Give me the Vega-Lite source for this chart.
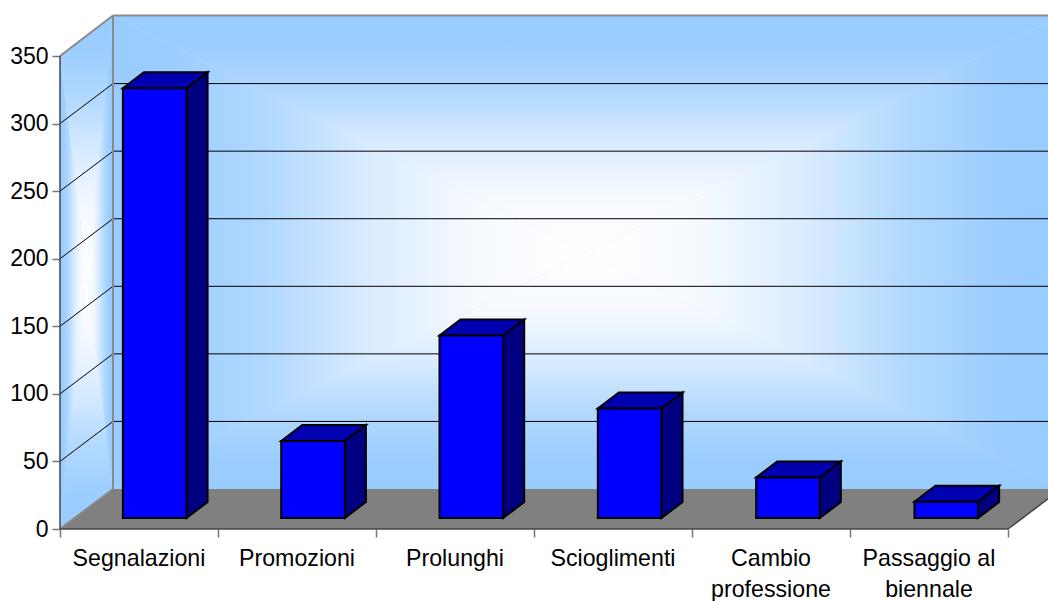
{
"$schema":"https://vega.github.io/schema/vega-lite/v6.json",
"width":988,"height":520,"autosize":"none",
"padding":{"left":60,"top":9,"right":0,"bottom":72},
"background":"white",
"config":{"view":{"stroke":null},"font":"Liberation Sans"},
"datasets":{
"bars":[
{"category":"Segnalazioni","label":"Segnalazioni","pos":0,"value":318},
{"category":"Promozioni","label":"Promozioni","pos":1,"value":57},
{"category":"Prolunghi","label":"Prolunghi","pos":2,"value":135},
{"category":"Scioglimenti","label":"Scioglimenti","pos":3,"value":81},
{"category":"Cambio professione","label":"Cambio\nprofessione","pos":4,"value":30},
{"category":"Passaggio al biennale","label":"Passaggio al\nbiennale","pos":5,"value":12}],
"ticks":[{"t":50},{"t":100},{"t":150},{"t":200},{"t":250},{"t":300}],
"walls":[
{"piece":"backTop","x":0.3354,"y":380,"y2":380},{"piece":"backTop","x":3.3354,"y":204.8,"y2":380},{"piece":"backTop","x":6.3354,"y":380,"y2":380},
{"piece":"backBottom","x":0.3354,"y":29.6,"y2":29.6},{"piece":"backBottom","x":3.3354,"y":29.6,"y2":204.8},{"piece":"backBottom","x":6.3354,"y":29.6,"y2":29.6},
{"piece":"backLeft","x":0.3354,"y":29.6,"y2":380},{"piece":"backLeft","x":3.3354,"y":204.8,"y2":204.8},
{"piece":"backRight","x":3.3354,"y":204.8,"y2":204.8},{"piece":"backRight","x":6.3354,"y":29.6,"y2":380},
{"piece":"sideTop","x":0,"y":350,"y2":350},{"piece":"sideTop","x":0.1677,"y":190,"y2":365},{"piece":"sideTop","x":0.3354,"y":380,"y2":380},
{"piece":"sideBottom","x":0,"y":0,"y2":0},{"piece":"sideBottom","x":0.1677,"y":14.8,"y2":190},{"piece":"sideBottom","x":0.3354,"y":29.6,"y2":29.6},
{"piece":"sideLeft","x":0,"y":0,"y2":350},{"piece":"sideLeft","x":0.1677,"y":190,"y2":190},
{"piece":"sideRight","x":0.1677,"y":190,"y2":190},{"piece":"sideRight","x":0.3354,"y":29.6,"y2":380},
{"piece":"baseBack","x":0.3354,"y":29.6,"y2":380},{"piece":"baseBack","x":6.3354,"y":29.6,"y2":380},
{"piece":"baseSide","x":0,"y":0,"y2":350},{"piece":"baseSide","x":0.3354,"y":29.6,"y2":380},
{"piece":"floor","x":0,"y":0,"y2":0},{"piece":"floor","x":0.3354,"y":0,"y2":29.6},{"piece":"floor","x":6,"y":0,"y2":29.6},{"piece":"floor","x":6.3354,"y":29.6,"y2":29.6}],
"edges":[
{"kind":"gray","x":0.3354,"x2":0.3354,"y":29.6,"y2":380},
{"kind":"gray","x":0.3354,"x2":6.2532,"y":380,"y2":380},
{"kind":"gray","x":0,"x2":0.3354,"y":350,"y2":380},
{"kind":"gray","x":0,"x2":0.3354,"y":0,"y2":29.6},
{"kind":"dark","x":0,"x2":0,"y":0,"y2":350},
{"kind":"dark","x":0,"x2":6,"y":0,"y2":0},
{"kind":"dark","x":6,"x2":6.2532,"y":0,"y2":22.3}]
},
"encoding":{
 "x":{"type":"quantitative","title":null,"scale":{"domain":[0,6.2532],"nice":false,"zero":false},
   "axis":{"values":[0,1,2,3,4,5,6],"labels":false,"title":null,"grid":false,"domain":false,"ticks":true,"tickSize":8,"tickColor":"#777777","tickWidth":1.5}},
 "y":{"type":"quantitative","title":null,"scale":{"domain":[0,384.8],"nice":false,"zero":false},
   "axis":{"values":[0,50,100,150,200,250,300,350],"title":null,"grid":false,"domain":false,"tickSize":8,"tickColor":"#777777","tickWidth":1.5,"labelFont":"Liberation Sans","labelFontSize":23,"labelColor":"#000000","labelPadding":4}}
},
"layer":[
{"data":{"name":"walls"},"transform":[{"filter":"datum.piece==='baseBack'||datum.piece==='baseSide'"}],
 "mark":{"type":"area","fill":"#C8E3FF","clip":true},
 "encoding":{"x":{"field":"x"},"y":{"field":"y"},"y2":{"field":"y2"},"detail":{"field":"piece"}}},
{"data":{"name":"walls"},"transform":[{"filter":"datum.piece==='backTop'||datum.piece==='sideTop'"}],
 "mark":{"type":"area","clip":true,"fill":{"gradient":"linear","x1":0,"y1":0,"x2":0,"y2":1,"stops":[{"offset":0,"color":"#99CCFF"},{"offset":0.12,"color":"#9BCDFF"},{"offset":0.33,"color":"#B2D9FF"},{"offset":0.53,"color":"#D8EBFF"},{"offset":0.75,"color":"#F5F9FF"},{"offset":1,"color":"#FFFFFF"}]}},
 "encoding":{"x":{"field":"x"},"y":{"field":"y"},"y2":{"field":"y2"},"detail":{"field":"piece"}}},
{"data":{"name":"walls"},"transform":[{"filter":"datum.piece==='backBottom'||datum.piece==='sideBottom'"}],
 "mark":{"type":"area","clip":true,"fill":{"gradient":"linear","x1":0,"y1":1,"x2":0,"y2":0,"stops":[{"offset":0,"color":"#99CCFF"},{"offset":0.12,"color":"#9BCDFF"},{"offset":0.33,"color":"#B2D9FF"},{"offset":0.53,"color":"#D8EBFF"},{"offset":0.75,"color":"#F5F9FF"},{"offset":1,"color":"#FFFFFF"}]}},
 "encoding":{"x":{"field":"x"},"y":{"field":"y"},"y2":{"field":"y2"},"detail":{"field":"piece"}}},
{"data":{"name":"walls"},"transform":[{"filter":"datum.piece==='backLeft'||datum.piece==='sideLeft'"}],
 "mark":{"type":"area","clip":true,"fill":{"gradient":"linear","x1":0,"y1":0,"x2":1,"y2":0,"stops":[{"offset":0,"color":"#99CCFF"},{"offset":0.12,"color":"#9BCDFF"},{"offset":0.33,"color":"#B2D9FF"},{"offset":0.53,"color":"#D8EBFF"},{"offset":0.75,"color":"#F5F9FF"},{"offset":1,"color":"#FFFFFF"}]}},
 "encoding":{"x":{"field":"x"},"y":{"field":"y"},"y2":{"field":"y2"},"detail":{"field":"piece"}}},
{"data":{"name":"walls"},"transform":[{"filter":"datum.piece==='backRight'||datum.piece==='sideRight'"}],
 "mark":{"type":"area","clip":true,"fill":{"gradient":"linear","x1":1,"y1":0,"x2":0,"y2":0,"stops":[{"offset":0,"color":"#99CCFF"},{"offset":0.12,"color":"#9BCDFF"},{"offset":0.33,"color":"#B2D9FF"},{"offset":0.53,"color":"#D8EBFF"},{"offset":0.75,"color":"#F5F9FF"},{"offset":1,"color":"#FFFFFF"}]}},
 "encoding":{"x":{"field":"x"},"y":{"field":"y"},"y2":{"field":"y2"},"detail":{"field":"piece"}}},
{"data":{"name":"ticks"},"transform":[{"calculate":"datum.t+29.6","as":"back"},{"calculate":"0.3354","as":"xa"},{"calculate":"6.2532","as":"xb"}],
 "mark":{"type":"rule","color":"#000000","strokeWidth":1},
 "encoding":{"x":{"field":"xa"},"x2":{"field":"xb"},"y":{"field":"back"}}},
{"data":{"name":"ticks"},"transform":[{"calculate":"datum.t+29.6","as":"back"},{"calculate":"0","as":"xa"},{"calculate":"0.3354","as":"xb"}],
 "mark":{"type":"rule","color":"#000000","strokeWidth":1},
 "encoding":{"x":{"field":"xa"},"x2":{"field":"xb"},"y":{"field":"t"},"y2":{"field":"back"}}},
{"data":{"name":"walls"},"transform":[{"filter":"datum.piece==='floor'"}],
 "mark":{"type":"area","fill":"#808080","clip":true},
 "encoding":{"x":{"field":"x"},"y":{"field":"y"},"y2":{"field":"y2"}}},
{"data":{"name":"edges"},"transform":[{"filter":"datum.kind==='gray'"}],
 "mark":{"type":"rule","color":"#8A8A8A","strokeWidth":2},
 "encoding":{"x":{"field":"x"},"x2":{"field":"x2"},"y":{"field":"y"},"y2":{"field":"y2"}}},
{"data":{"name":"edges"},"transform":[{"filter":"datum.kind==='dark'"}],
 "mark":{"type":"rule","color":"#444444","strokeWidth":1.5},
 "encoding":{"x":{"field":"x"},"x2":{"field":"x2"},"y":{"field":"y"},"y2":{"field":"y2"}}},
{"data":{"name":"bars"},"transform":[
  {"calculate":"datum.pos+0.398+datum.pos*0.002","as":"x1"},{"calculate":"datum.x1+0.403","as":"x2"},{"calculate":"8.14","as":"base"},{"calculate":"8.14+datum.value","as":"top"},
  {"calculate":"[datum.x1,datum.x1+0.133,datum.x2,datum.x2+0.133]","as":"xs"},
  {"calculate":"[datum.top,datum.top,datum.top,datum.top+11.84]","as":"los"},
  {"calculate":"[datum.top,datum.top+11.84,datum.top+11.84,datum.top+11.84]","as":"his"},
  {"flatten":["xs","los","his"]}],
 "mark":{"type":"area","fill":"#0000B0","stroke":"#000000","strokeWidth":2,"strokeJoin":"miter"},
 "encoding":{"x":{"field":"xs"},"y":{"field":"los"},"y2":{"field":"his"},"detail":{"field":"category"}}},
{"data":{"name":"bars"},"transform":[
  {"calculate":"datum.pos+0.398+datum.pos*0.002+0.403","as":"x2"},{"calculate":"8.14","as":"base"},{"calculate":"8.14+datum.value","as":"top"},
  {"calculate":"[datum.x2,datum.x2+0.133]","as":"xs"},
  {"calculate":"[datum.base,datum.base+11.84]","as":"los"},
  {"calculate":"[datum.top,datum.top+11.84]","as":"his"},
  {"flatten":["xs","los","his"]}],
 "mark":{"type":"area","fill":"#000080","stroke":"#000000","strokeWidth":2,"strokeJoin":"miter"},
 "encoding":{"x":{"field":"xs"},"y":{"field":"los"},"y2":{"field":"his"},"detail":{"field":"category"}}},
{"data":{"name":"bars"},"transform":[{"calculate":"datum.pos+0.398+datum.pos*0.002","as":"x1"},{"calculate":"datum.x1+0.403","as":"x2"},{"calculate":"8.14","as":"base"},{"calculate":"8.14+datum.value","as":"top"}],
 "mark":{"type":"rect","fill":"#0000FF","stroke":"#000000","strokeWidth":2},
 "encoding":{"x":{"field":"x1"},"x2":{"field":"x2"},"y":{"field":"base"},"y2":{"field":"top"}}},
{"data":{"name":"bars"},"transform":[{"calculate":"datum.pos+0.5","as":"cx"},{"calculate":"0","as":"zero"}],
 "mark":{"type":"text","font":"Liberation Sans","fontSize":23.2,"color":"#000000","align":"center","baseline":"alphabetic","dy":37,"lineBreak":"\n","lineHeight":31,"clip":false},
 "encoding":{"x":{"field":"cx"},"y":{"field":"zero"},"text":{"field":"label"}}}
]}
